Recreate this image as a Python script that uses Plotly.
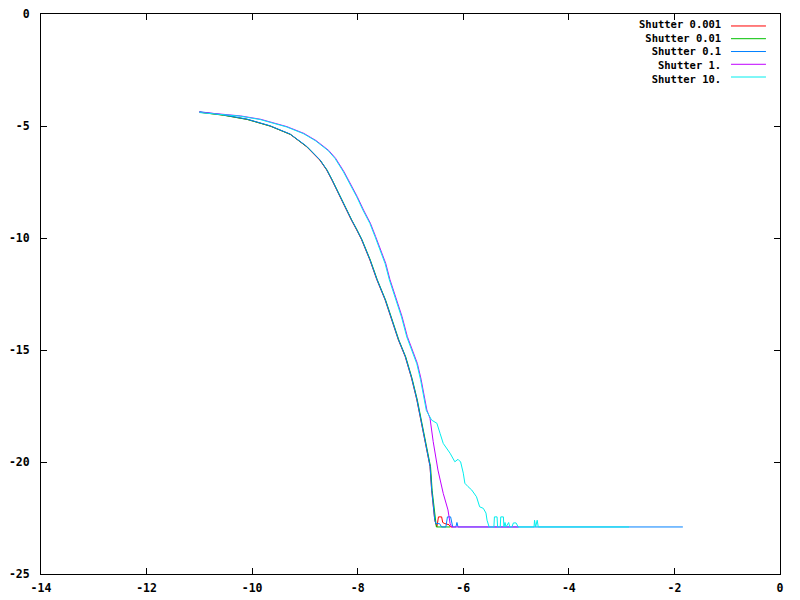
import plotly.graph_objects as go

names = ["Shutter 0.001", "Shutter 0.01", "Shutter 0.1", "Shutter 1.", "Shutter 10."]
colors = ["#ff0000", "#00c000", "#0080ff", "#c000ff", "#00eeee"]

# lower group (0.001, 0.01, 0.1)
x_red = [-11.0, -10.55, -10.1, -9.66, -9.28, -8.97, -8.72, -8.59, -8.49, -8.4, -8.3, -8.21, -8.12,
         -8.02, -7.93, -7.77, -7.64, -7.48, -7.36, -7.23, -7.1, -6.98, -6.88, -6.79, -6.70, -6.63,
         -6.6, -6.57, -6.54, -6.5, -6.47, -6.41, -6.39, -6.35, -6.27, -6.24, -6.2]
y_red = [-4.38, -4.51, -4.70, -5.0, -5.37, -5.92, -6.52, -6.96, -7.41, -7.86, -8.3, -8.75, -9.2,
         -9.64, -10.06, -10.98, -11.85, -12.77, -13.66, -14.55, -15.3, -16.26, -17.23, -18.27, -19.3, -20.2,
         -21.25, -22.0, -22.6, -22.9, -22.45, -22.45, -22.7, -22.75, -22.8, -22.9, -22.9]

x_green = [-10.99, -10.54, -10.09, -9.65, -9.27, -8.96, -8.71, -8.58, -8.48, -8.39, -8.29, -8.2, -8.11,
           -8.01, -7.92, -7.76, -7.63, -7.47, -7.35, -7.22, -7.09, -6.97, -6.87, -6.78, -6.69, -6.62,
           -6.59, -6.56, -6.53, -6.51, -6.25]
y_green = [-4.39, -4.52, -4.71, -5.01, -5.38, -5.93, -6.53, -6.97, -7.42, -7.87, -8.31, -8.76, -9.21,
           -9.65, -10.07, -10.99, -11.86, -12.78, -13.67, -14.56, -15.31, -16.27, -17.24, -18.28, -19.31, -20.21,
           -21.26, -22.01, -22.61, -22.9, -22.9]

x_blue = [-11.0, -10.55, -10.1, -9.66, -9.28, -8.97, -8.72, -8.59, -8.49, -8.4, -8.3, -8.21, -8.12,
          -8.02, -7.93, -7.77, -7.64, -7.48, -7.36, -7.23, -7.1, -6.98, -6.88, -6.79, -6.70, -6.63,
          -6.6, -6.57, -6.54, -6.52, -6.45, -6.41, -6.33, -6.3, -6.24, -6.2, -6.14, -6.12, -6.1, -1.84]
y_blue = [-4.36, -4.50, -4.69, -4.99, -5.36, -5.9, -6.5, -6.94, -7.39, -7.84, -8.28, -8.73, -9.18,
          -9.62, -10.04, -10.96, -11.83, -12.75, -13.64, -14.53, -15.28, -16.24, -17.2, -18.25, -19.28, -20.18,
          -21.2, -21.98, -22.6, -22.75, -22.75, -22.9, -22.9, -22.45, -22.45, -22.9, -22.9, -22.7, -22.9, -22.9]

# upper group (1, 10)
x_purple = [-11.0, -10.22, -9.84, -9.34, -9.02, -8.79, -8.55, -8.42, -8.26, -8.14, -8.01, -7.89, -7.76,
            -7.66, -7.57, -7.47, -7.39, -7.29, -7.16, -7.06, -6.97, -6.87, -6.8, -6.69, -6.63, -6.57,
            -6.48, -6.38, -6.29, -6.25, -6.22, -4.95]
y_purple = [-4.38, -4.55, -4.70, -5.03, -5.33, -5.65, -6.09, -6.44, -7.04, -7.56, -8.15, -8.75, -9.34,
            -9.94, -10.54, -11.13, -11.85, -12.62, -13.51, -14.4, -15.0, -15.6, -16.3, -17.68, -18.05, -19.09,
            -20.36, -21.4, -22.14, -22.74, -22.9, -22.9]

x_cyan = [-11.0, -10.23, -9.85, -9.35, -9.03, -8.8, -8.56, -8.43, -8.27, -8.15, -8.02, -7.9, -7.77,
          -7.67, -7.58, -7.48, -7.4, -7.3, -7.17, -7.07, -6.98, -6.88, -6.81, -6.7, -6.6, -6.5,
          -6.44, -6.38, -6.25, -6.16, -6.1, -6.05, -6.0, -5.97, -5.91, -5.84, -5.75, -5.69, -5.62,
          -5.57, -5.55, -5.51, -5.42, -5.41, -5.36, -5.35, -5.3, -5.29, -5.24, -5.23, -5.21, -5.19,
          -5.14, -5.12, -5.08, -5.05, -5.0, -4.96, -4.66, -4.65, -4.63, -4.61, -4.6, -4.58, -2.86]
y_cyan = [-4.40, -4.56, -4.71, -5.04, -5.34, -5.66, -6.1, -6.45, -7.05, -7.57, -8.16, -8.76, -9.35,
          -9.95, -10.55, -11.15, -11.87, -12.64, -13.53, -14.42, -15.02, -15.62, -16.32, -17.7, -18.13, -18.27,
          -18.72, -19.17, -19.61, -19.99, -19.88, -20.0, -20.5, -20.95, -21.1, -21.25, -21.55, -22.0, -22.07,
          -22.28, -22.6, -22.9, -22.9, -22.45, -22.45, -22.9, -22.9, -22.45, -22.45, -22.9, -22.7, -22.9,
          -22.7, -22.9, -22.9, -22.72, -22.72, -22.9, -22.9, -22.6, -22.9, -22.6, -22.6, -22.9, -22.9]

series_x = [x_red, x_green, x_blue, x_purple, x_cyan]
series_y = [y_red, y_green, y_blue, y_purple, y_cyan]

x_ticks = [-14, -12, -10, -8, -6, -4, -2, 0]
y_ticks = [0, -5, -10, -15, -20, -25]

font = dict(family="DejaVu Sans Mono", size=11.5, color="#000000", weight="bold")
legend_font = dict(family="DejaVu Sans Mono", size=10.5, color="#000000", weight="bold")

fig = go.Figure()
for xs, ys, c, n in zip(series_x, series_y, colors, names):
    fig.add_trace(go.Scatter(x=xs, y=ys, mode="lines", name=n,
                             line=dict(color=c, width=1), showlegend=False))

# custom gnuplot-style legend: right-aligned text block, sample lines to its right
row_y = [0.9786, 0.9559, 0.9330, 0.9102, 0.8875]
fig.add_annotation(x=0.9229, y=(row_y[0] + row_y[-1]) / 2, xref="paper", yref="paper",
                   text="<br>".join(names), align="right", showarrow=False,
                   xanchor="right", yanchor="middle", font=legend_font)
for c, yy in zip(colors, row_y):
    fig.add_shape(type="line", xref="paper", yref="paper", x0=0.9337, x1=0.981, y0=yy, y1=yy,
                  line=dict(color=c, width=1))

axis_common = dict(showgrid=False, zeroline=False, showline=True, linecolor="#000000", linewidth=1,
                   mirror="allticks", ticks="inside", ticklen=6, tickwidth=1, tickcolor="#000000",
                   tickfont=font, automargin=False)
fig.update_xaxes(range=[-14, 0], tickvals=x_ticks, ticktext=[str(v) for v in x_ticks],
                 ticklabelstandoff=3, **axis_common)
fig.update_yaxes(range=[-25, 0], tickvals=y_ticks, ticktext=[str(v) for v in y_ticks],
                 ticklabelstandoff=8, **axis_common)

fig.update_layout(width=800, height=600, margin=dict(l=41, r=20, t=14, b=26),
                  paper_bgcolor="#ffffff", plot_bgcolor="#ffffff", showlegend=False)

fig.write_html("out.html", config={"displayModeBar": False},
               post_script="document.body.style.margin='0';document.body.style.padding='0';")
